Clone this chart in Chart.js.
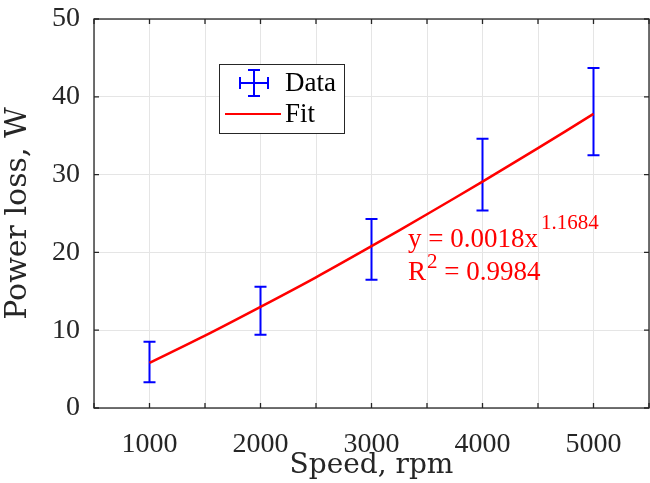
<!DOCTYPE html>
<html>
<head>
<meta charset="utf-8">
<script src="https://cdn.jsdelivr.net/npm/chart.js@4.4.1/dist/chart.umd.min.js"></script>
<style>
  html, body { margin: 0; padding: 0; background: #fff; }
  #wrap { width: 650px; height: 483px; }
</style>
</head>
<body>
<div id="wrap"><canvas id="lossPlot"></canvas></div>
<script>
// measured data
const speed = [1000, 2000, 3000, 4000, 5000];
const loss = [5.9, 12.5, 20.4, 30.0, 38.1];
const lossErr = [2.6, 3.1, 3.9, 4.6, 5.6];

// fit curve
const fitSpeed = [1000, 1500, 2000, 2500, 3000, 3500, 4000, 4500, 5000];
const fitLoss = [5.8, 9.3, 13.0, 16.8, 20.8, 24.9, 29.1, 33.4, 37.8];

const xTicks = [1000, 2000, 3000, 4000, 5000];
const fitText = ['y = 0.0018x', '1.1684', 'R', '2', ' = 0.9984'];

const axisColor = '#262626';
const serif = '"Liberation Serif", "DejaVu Serif", serif';
const wideSerif = '"DejaVu Serif", serif';

const extras = {
  id: 'extras',
  beforeDatasetsDraw(chart) {
    const ctx = chart.ctx, xs = chart.scales.x, ys = chart.scales.y;
    ctx.save();
    ctx.strokeStyle = '#0000ff';
    ctx.lineWidth = 2;
    for (let i = 0; i < speed.length; i++) {
      const px = xs.getPixelForValue(speed[i]);
      const t = ys.getPixelForValue(loss[i] + lossErr[i]);
      const b = ys.getPixelForValue(loss[i] - lossErr[i]);
      ctx.beginPath();
      ctx.moveTo(px, t); ctx.lineTo(px, b);
      ctx.moveTo(px - 6, t); ctx.lineTo(px + 6, t);
      ctx.moveTo(px - 6, b); ctx.lineTo(px + 6, b);
      ctx.stroke();
    }
    ctx.restore();
  },
  afterDatasetsDraw(chart) {
    const ctx = chart.ctx, xs = chart.scales.x, ys = chart.scales.y;
    const a = chart.chartArea;
    ctx.save();
    // box and inward ticks
    ctx.strokeStyle = axisColor;
    ctx.lineWidth = 1.3;
    ctx.strokeRect(a.left, a.top, a.right - a.left, a.bottom - a.top);
    ctx.beginPath();
    xs.ticks.forEach(t => {
      const px = xs.getPixelForValue(t.value);
      ctx.moveTo(px, a.bottom); ctx.lineTo(px, a.bottom - 5);
      ctx.moveTo(px, a.top); ctx.lineTo(px, a.top + 5);
    });
    ys.ticks.forEach(t => {
      const py = ys.getPixelForValue(t.value);
      ctx.moveTo(a.left, py); ctx.lineTo(a.left + 5, py);
      ctx.moveTo(a.right, py); ctx.lineTo(a.right - 5, py);
    });
    ctx.stroke();

    // legend
    const lx = 219, ly = 64, lw = 125, lh = 69;
    ctx.fillStyle = '#fff';
    ctx.fillRect(lx, ly, lw, lh);
    ctx.lineWidth = 1;
    ctx.strokeStyle = axisColor;
    ctx.strokeRect(lx + 0.5, ly + 0.5, lw, lh);
    ctx.strokeStyle = '#0000ff';
    ctx.lineWidth = 2;
    const cx = lx + 35, cy = ly + 19;
    ctx.beginPath();
    ctx.moveTo(cx - 14, cy); ctx.lineTo(cx + 14, cy);
    ctx.moveTo(cx - 14, cy - 6); ctx.lineTo(cx - 14, cy + 6);
    ctx.moveTo(cx + 14, cy - 6); ctx.lineTo(cx + 14, cy + 6);
    ctx.moveTo(cx, cy - 13); ctx.lineTo(cx, cy + 13);
    ctx.moveTo(cx - 6, cy - 13); ctx.lineTo(cx + 6, cy - 13);
    ctx.moveTo(cx - 6, cy + 13); ctx.lineTo(cx + 6, cy + 13);
    ctx.stroke();
    ctx.strokeStyle = '#ff0000';
    ctx.beginPath();
    ctx.moveTo(lx + 6, ly + 50); ctx.lineTo(lx + 62, ly + 50);
    ctx.stroke();
    ctx.fillStyle = '#000';
    ctx.font = '27px ' + serif;
    ctx.textBaseline = 'middle';
    ctx.fillText('Data', lx + 66, cy + 1);
    ctx.fillText('Fit', lx + 66, ly + 51);

    // fit equation
    ctx.fillStyle = '#ff0000';
    ctx.textBaseline = 'alphabetic';
    const ex = xs.getPixelForValue(3329), ey = ys.getPixelForValue(20.7);
    ctx.font = '27px ' + serif;
    ctx.fillText(fitText[0], ex, ey);
    const w0 = ctx.measureText(fitText[0]).width;
    ctx.font = '21px ' + serif;
    ctx.fillText(fitText[1], ex + w0 + 3, ey - 18);
    const ey2 = ey + 33;
    ctx.font = '27px ' + serif;
    ctx.fillText(fitText[2], ex, ey2);
    const w2 = ctx.measureText(fitText[2]).width;
    ctx.font = '21px ' + serif;
    ctx.fillText(fitText[3], ex + w2 + 1, ey2 - 12);
    const w3 = ctx.measureText(fitText[3]).width;
    ctx.font = '27px ' + serif;
    ctx.fillText(fitText[4], ex + w2 + w3 + 1, ey2);
    ctx.restore();
  }
};

new Chart(document.getElementById('lossPlot'), {
  type: 'scatter',
  data: {
    datasets: [{
      label: 'Data',
      data: speed.map((s, i) => ({ x: s, y: loss[i] })),
      pointRadius: 0,
      showLine: false
    }, {
      label: 'Fit',
      data: fitSpeed.map((s, i) => ({ x: s, y: fitLoss[i] })),
      showLine: true,
      borderColor: '#ff0000',
      borderWidth: 2.5,
      pointRadius: 0,
      tension: 0.3
    }]
  },
  plugins: [extras],
  options: {
    responsive: true,
    maintainAspectRatio: false,
    animation: false,
    layout: { padding: { top: 19, right: 1, left: 0, bottom: 0 } },
    plugins: {
      legend: { display: false },
      tooltip: { enabled: false }
    },
    scales: {
      x: {
        type: 'linear',
        min: 500, max: 5500,
        border: { display: false },
        grid: { color: '#e5e5e5', lineWidth: 1, drawTicks: false },
        ticks: {
          stepSize: 500,
          padding: 20,
          maxRotation: 0,
          minRotation: 0,
          autoSkip: false,
          color: axisColor,
          font: { family: serif, size: 28 },
          callback: v => xTicks.includes(v) ? String(v) : ''
        },
        title: {
          display: true,
          text: 'Speed, rpm',
          color: axisColor,
          font: { family: wideSerif, size: 28 },
          padding: { top: -9, bottom: 0 }
        },
        afterFit: s => { s.height = 75; s.paddingLeft = 0; s.paddingRight = 0; }
      },
      y: {
        min: 0, max: 50,
        border: { display: false },
        grid: { color: '#e5e5e5', lineWidth: 1, drawTicks: false },
        ticks: {
          stepSize: 10,
          padding: 14,
          color: axisColor,
          font: { family: serif, size: 28 }
        },
        title: {
          display: true,
          text: 'Power loss, W',
          color: axisColor,
          font: { family: wideSerif, size: 30 },
          padding: { top: 0, bottom: 0 }
        },
        afterFit: s => { s.width = 94; s.paddingTop = 0; s.paddingBottom = 0; }
      }
    }
  }
});
</script>
</body>
</html>
